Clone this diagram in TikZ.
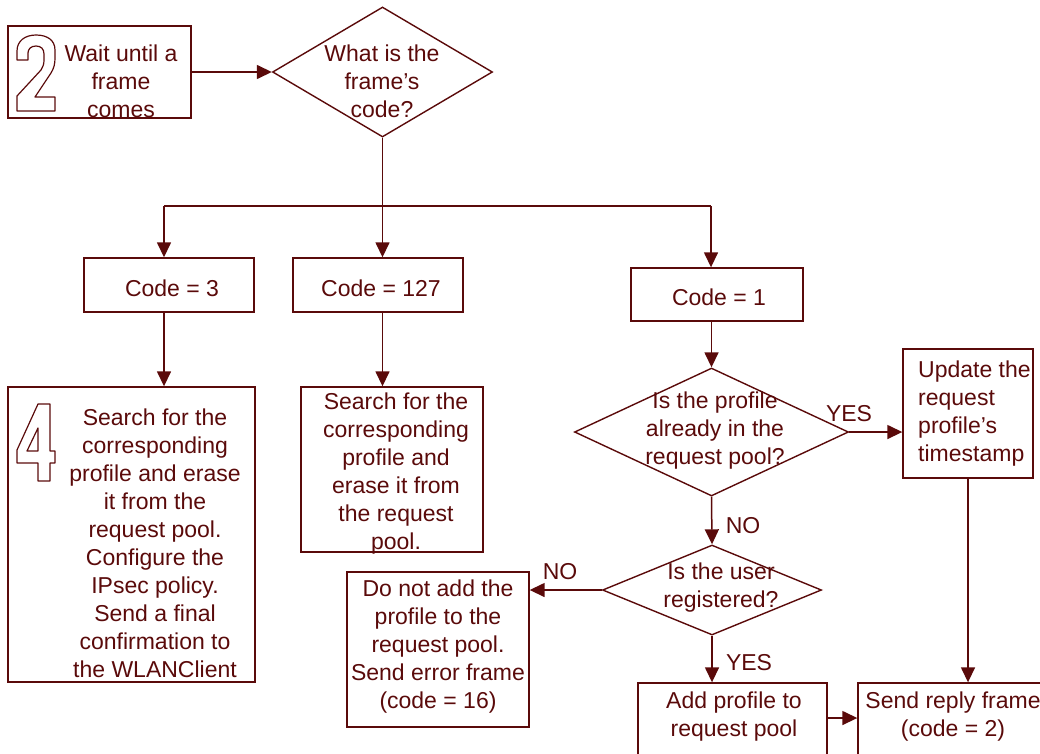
\documentclass[tikz,border=0pt]{standalone}
\usepackage{fontspec}
\setmainfont{Liberation Sans}
\usetikzlibrary{arrows.meta,shapes.geometric}

\definecolor{mc}{RGB}{90,10,10}

\tikzset{
  box/.style={draw=mc, line width=1.4pt, inner sep=0pt, rectangle},
  dec/.style={draw=mc, line width=1.4pt, inner sep=0pt, diamond},
  txt/.style={text=mc, font=\fontsize{23}{28}\selectfont, align=center, inner sep=0pt},
  link/.style={draw=mc, line width=1.5pt},
  arr/.style={link, -{Triangle[length=15pt,width=14pt]}},
  digit/.style={draw=mc, line width=1.2pt, line join=round}
}

\begin{document}
\begin{tikzpicture}[x=1pt,y=-1pt]
\useasboundingbox (0,0) rectangle (1040,753);
\clip (0,0) rectangle (1040,753);

% ---- shapes ----
\node[box, minimum width=183pt, minimum height=92pt] (wait) at (99.5,72) {};
\node[dec, minimum width=220pt, minimum height=130pt] (d1) at (382.5,72) {};

\node[box, minimum width=170pt, minimum height=54pt] (c3) at (169,285) {};
\node[box, minimum width=170pt, minimum height=54pt] (c127) at (378,285) {};
\node[box, minimum width=172pt, minimum height=53pt] (c1) at (717,294.5) {};

\node[box, minimum width=247pt, minimum height=295pt] (b4) at (131.5,534.5) {};
\node[box, minimum width=182pt, minimum height=165pt] (b127) at (392,469.5) {};

\node[dec, minimum width=274pt, minimum height=128pt] (d2) at (711.5,432) {};
\node[box, minimum width=130pt, minimum height=129pt] (upd) at (968,413.5) {};
\node[dec, minimum width=219pt, minimum height=90pt] (d3) at (712,590) {};
\node[box, minimum width=182pt, minimum height=155pt] (dont) at (438,649.5) {};
\node[box, minimum width=189pt, minimum height=87pt] (add) at (732.5,726.5) {};
\node[box, minimum width=192pt, minimum height=87pt] (send) at (954,726.5) {};

% ---- texts ----
\node[txt] (waitT) at (121,81.5) {Wait until a\\frame\\comes};
\node[txt] (d1T) at (382,81) {What is the\\frame’s\\code?};
\node[txt] (c3T) at (172,288) {Code = 3};
\node[txt] (c127T) at (381,288) {Code = 127};
\node[txt] (c1T) at (719,297) {Code = 1};
\node[txt] (b4T) at (155,543) {Search for the\\corresponding\\profile and erase\\it from the\\request pool.\\Configure the\\IPsec policy.\\Send a final\\confirmation to\\the WLANClient};
\node[txt] (b127T) at (396,473.5) {Search for the\\corresponding\\profile and\\erase it from\\the request\\pool.};
\node[txt] (d2T) at (715,431) {Is the profile\\already in the\\request pool?};
\node[txt, anchor=west, align=left] (updT) at (918,413.5) {Update the\\request\\profile’s\\timestamp};
\node[txt] (d3T) at (721,588) {Is the user\\registered?};
\node[txt] (dontT) at (438,647) {Do not add the\\profile to the\\request pool.\\Send error frame\\(code = 16)};
\node[txt] (addT) at (734,717) {Add profile to\\request pool};
\node[txt] (sendT) at (953,717) {Send reply frame\\(code = 2)};

\node[txt] (yes1) at (849,414) {YES};
\node[txt] (no1) at (743,526) {NO};
\node[txt] (yes2) at (749,663) {YES};
\node[txt] (no2) at (560,572) {NO};

% ---- outlined step numbers ----
\draw[digit] (17,111) -- (55,111) -- (55,97) -- (35,97) -- (51,73)
  .. controls (54,68) and (55,64) .. (55,58) -- (55,50)
  .. controls (55,40) and (47,35) .. (36,35)
  .. controls (25,35) and (17,41) .. (17,51) -- (17,60) -- (28,60) -- (28,53)
  .. controls (28,49) and (31,46) .. (36,46)
  .. controls (41,46) and (44,49) .. (44,54) -- (44,60)
  .. controls (44,64) and (43,67) .. (41,70) -- (17,96) -- cycle;
\draw[digit] (38,404) -- (50,404) -- (50,451) -- (55,451) -- (55,463) -- (50,463)
  -- (50,481) -- (38,481) -- (38,463) -- (17,463) -- (17,450) -- cycle;
\draw[digit] (38,428) -- (38,451) -- (27,451) -- cycle;

% ---- connectors ----
\coordinate (busL) at (164,206);
\coordinate (busM) at (382.5,206);
\coordinate (busR) at (711,206);
\coordinate (addsend) at (0,718);

\draw[arr] (wait.east) -- (d1.west);
\draw[link] (d1.south) -- (busM);
\draw[link] (busL) -- (busR);
\draw[arr] (busL) -- (busL |- c3.north);
\draw[arr] (busM) -- (busM |- c127.north);
\draw[arr] (busR) -- (busR |- c1.north);

\draw[arr] (c3.south -| busL) -- (b4.north -| busL);
\draw[arr] (c127.south -| busM) -- (b127.north -| busM);
\draw[arr] (c1.south -| d2.north) -- (d2.north);

\draw[arr] (d2.east) -- (d2.east -| upd.west);
\draw[arr] (d2.south) -- (d3.north);
\draw[arr] (d3.west) -- (d3.west -| dont.east);
\draw[arr] (d3.south) -- (d3.south |- add.north);
\draw[arr] (add.east |- addsend) -- (send.west |- addsend);
\draw[arr] (upd.south) -- (upd.south |- send.north);
\end{tikzpicture}
\end{document}
